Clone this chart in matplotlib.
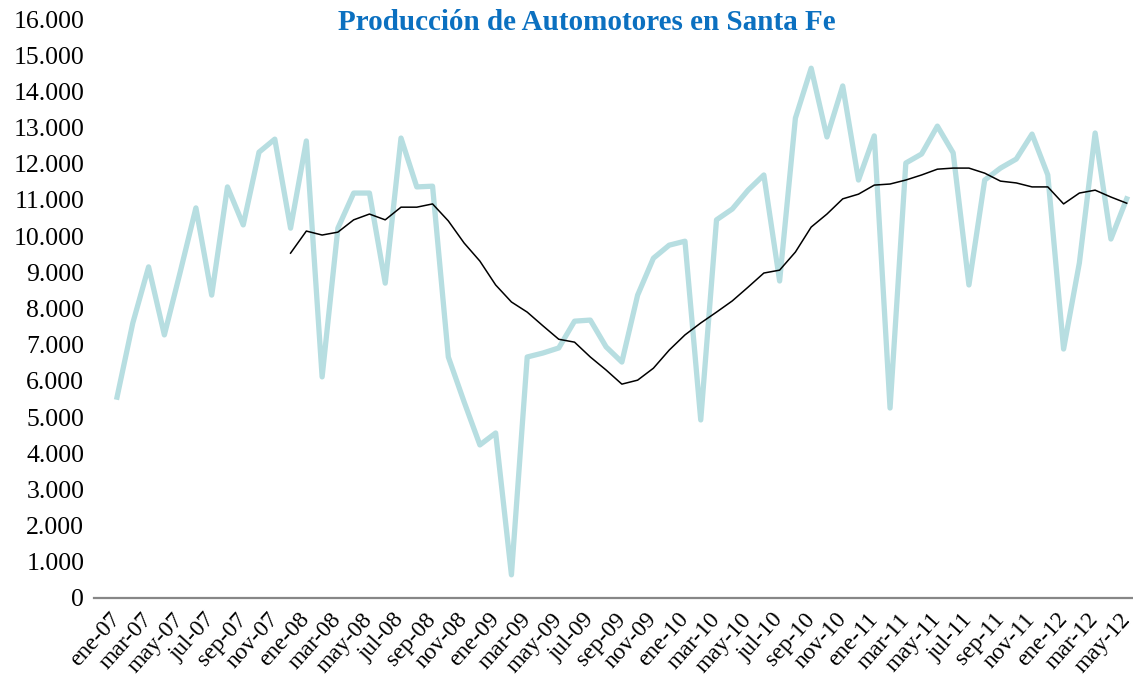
import matplotlib.pyplot as plt
import numpy as np
from matplotlib.ticker import FuncFormatter

# Data: monthly production, ene-07 .. may-12
meses = ["ene", "feb", "mar", "abr", "may", "jun", "jul", "ago", "sep", "oct", "nov", "dic"]
periodos = [f"{m}-{a:02d}" for a in range(7, 13) for m in meses][:65]

produccion = [
    5550, 7600, 9150, 7270, 9000, 10780, 8370, 11360, 10310, 12320, 12680, 10220,
    12630, 6110, 10220, 11190, 11190, 8700, 12710, 11360, 11380, 6660, 5420, 4230,
    4560, 640, 6660, 6770, 6910, 7650, 7680, 6940, 6520, 8370, 9390, 9750,
    9860, 4920, 10450, 10750, 11270, 11690, 8760, 13260, 14640, 12740, 14150, 11550,
    12770, 5250, 12020, 12270, 13040, 12300, 8650, 11550, 11880, 12130, 12820, 11690,
    6880, 9260, 12850, 9920, 11030,
]

# 12-month moving average trend (starts dic-07)
tendencia = [np.nan] * 11 + [
    9530, 10140, 10030, 10110, 10450, 10610, 10450, 10800, 10800, 10890, 10420, 9810,
    9310, 8650, 8180, 7900, 7520, 7150, 7070, 6660, 6300, 5910, 6020, 6350,
    6850, 7270, 7600, 7900, 8210, 8590, 8980, 9060, 9560, 10250, 10610, 11030,
    11160, 11410, 11440, 11550, 11690, 11850, 11880, 11880, 11740, 11520, 11470, 11360,
    11360, 10890, 11190, 11270, 11080, 10910,
]

plt.rcParams['font.family'] = ['Liberation Serif', 'DejaVu Serif']

fig = plt.figure(figsize=(11.33, 6.79), dpi=100)
ax = fig.add_axes([94 / 1133, 1 - 598 / 679, 1 - 94 / 1133, (598 - 19) / 679])

x = np.arange(len(produccion))
ax.plot(x, produccion, color='#b7dee1', linewidth=3.8, solid_joinstyle='round')
ax.plot(x, tendencia, color='black', linewidth=1.1)

ax.set_ylim(0, 16000)
ax.set_xlim(-1.46, 64.4)
ax.set_yticks(np.arange(0, 16001, 1000))
ax.yaxis.set_major_formatter(FuncFormatter(lambda v, p: f"{int(v):,}".replace(",", ".")))

ax.set_xticks(x[::2])
ax.set_xticklabels(periodos[::2], rotation=48, ha='right', va='center', rotation_mode='anchor')

for s in ['top', 'right', 'left']:
    ax.spines[s].set_visible(False)
ax.spines['bottom'].set_color('#878787')
ax.spines['bottom'].set_linewidth(1.6)
ax.tick_params(axis='both', length=0)
ax.tick_params(axis='y', pad=7, labelsize=18.5)
ax.tick_params(axis='x', pad=13, labelsize=17)

fig.text(587 / 1133, 1 - 22 / 679, "Producción de Automotores en Santa Fe",
         ha='center', va='center', fontsize=21, fontweight='bold', color='#0b70c0')

fig.savefig('out.png', dpi=100)
